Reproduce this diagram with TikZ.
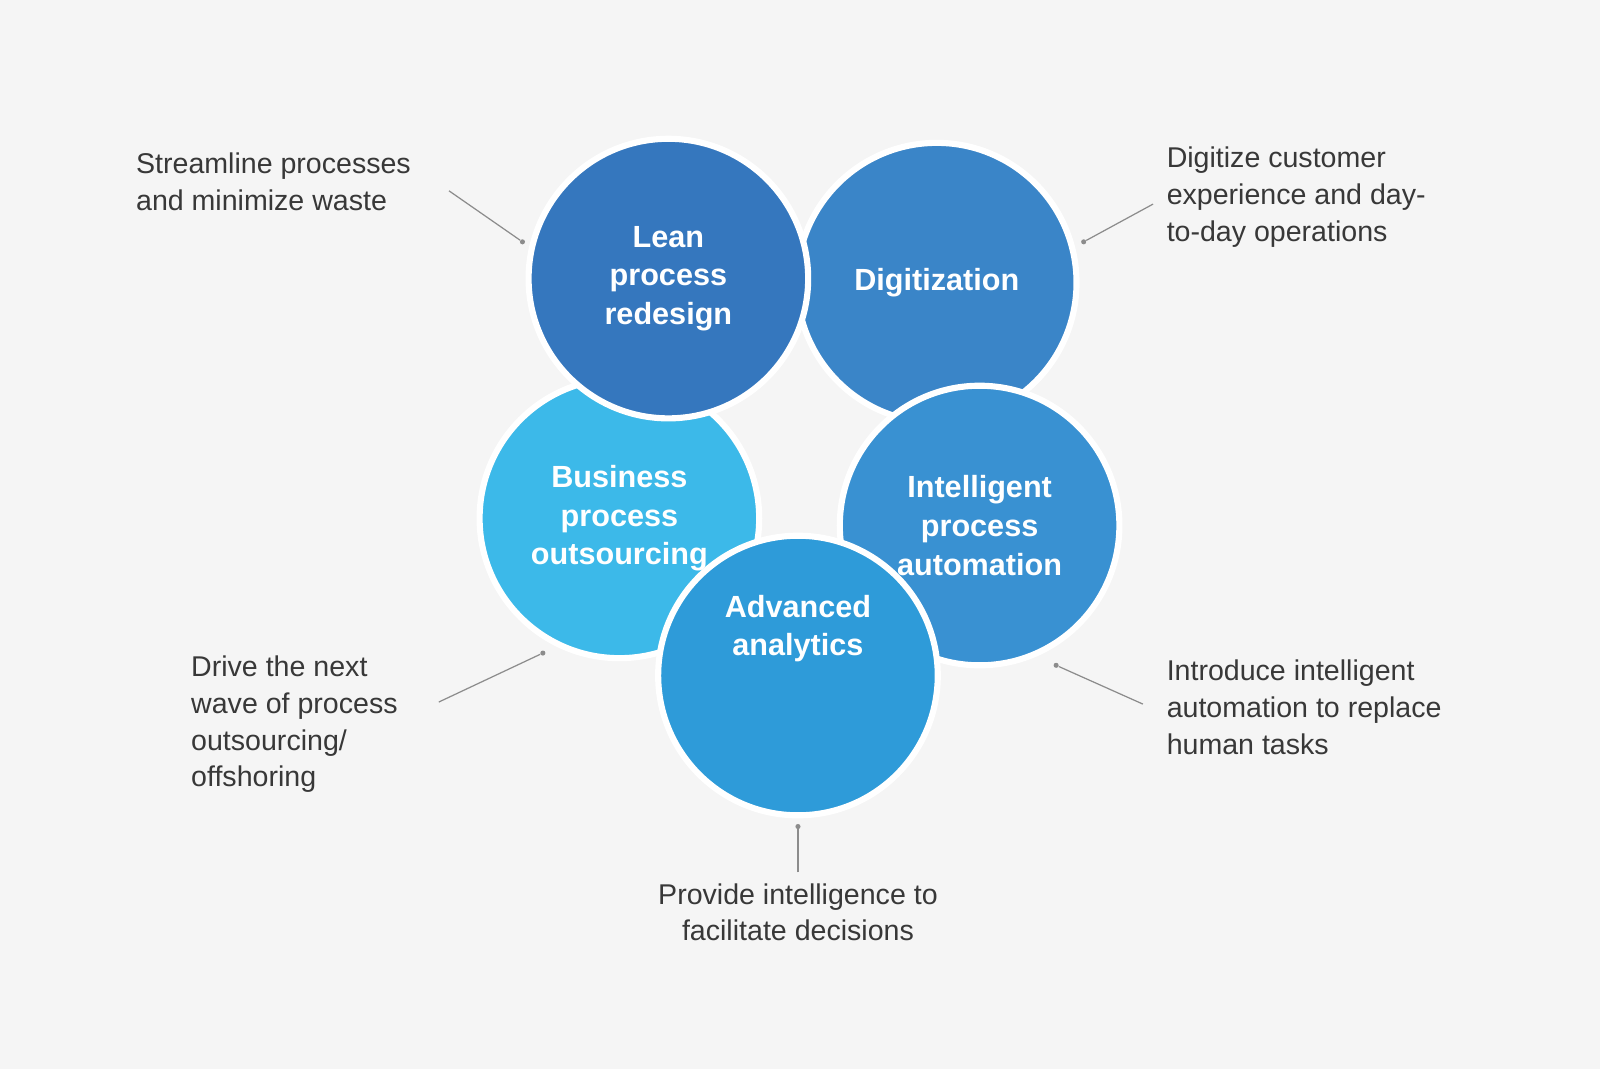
\documentclass[tikz,border=0pt]{standalone}
\usepackage{fontspec}
\setmainfont{Liberation Sans}
\begin{document}
\begin{tikzpicture}[x=0.5pt,y=-0.5pt,
  circ/.style={circle,minimum size=137pt,inner sep=0pt,draw=white,line width=3pt,text=white,font=\fontsize{15}{19}\selectfont\bfseries,align=center},
  desc/.style={font=\fontsize{14}{18}\selectfont,text=black!78,align=left,inner sep=0pt},
  conn/.style={draw=black!45,line width=0.6pt},
  dot/.style={circle,fill=black!45,inner sep=0pt,minimum size=2.5pt}]
\fill[black!4] (0,0) rectangle (1568,1048);
\useasboundingbox (0,0) rectangle (1568,1048);
\definecolor{cLean}{HTML}{3577BE}
\definecolor{cDig}{HTML}{3A85C8}
\definecolor{cBPO}{HTML}{3CB9E9}
\definecolor{cIPA}{HTML}{3991D2}
\definecolor{cAdv}{HTML}{2E9BD9}
\node[circ,fill=cDig] (dig) at (918,277) {Digitization};
\node[circ,fill=cIPA] (ipa) at (960,515) {Intelligent\\process\\automation};
\node[circ,fill=cBPO] (bpo) at (607,508) {Business\\process\\outsourcing};
\node[circ,fill=cAdv] (adv) at (782,662) {Advanced\\analytics\\[30pt]};
\node[circ,fill=cLean] (lean) at (655,273) {Lean\\process\\redesign};

\node[desc,anchor=west] (tl) at (133,178) {Streamline processes\\and minimize waste};
\node[desc,anchor=west] (td) at (1143,193) {Digitize customer\\experience and day-\\to-day operations};
\node[desc,anchor=west] (tb) at (187,710) {Drive the next\\wave of process\\outsourcing/\\offshoring};
\node[desc,anchor=west] (ti) at (1143,693) {Introduce intelligent\\automation to replace\\human tasks};
\node[desc,align=center] (ta) at (782,894) {Provide intelligence to\\facilitate decisions};

\coordinate (l1) at (440,187); \node[dot] (l2) at (512,237) {};
\coordinate (d1) at (1130,200); \node[dot] (d2) at (1062,237) {};
\coordinate (b1) at (430,688); \node[dot] (b2) at (532,640) {};
\coordinate (i1) at (1120,690); \node[dot] (i2) at (1035,652) {};
\coordinate (a1) at (782,855); \node[dot] (a2) at (782,810) {};
\draw[conn] (l1) -- (l2);
\draw[conn] (d1) -- (d2);
\draw[conn] (b1) -- (b2);
\draw[conn] (i1) -- (i2);
\draw[conn] (a1) -- (a2);
\end{tikzpicture}
\end{document}
